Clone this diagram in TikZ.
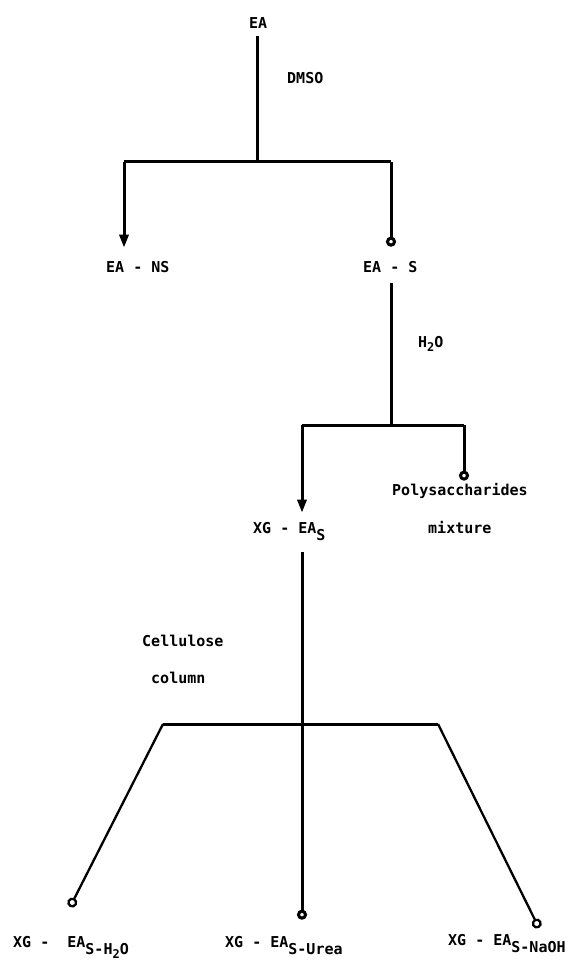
\documentclass[tikz,border=0pt]{standalone}
\usepackage{fontspec}
\newfontfamily\lbf{DejaVu Sans Mono}
\usetikzlibrary{arrows.meta}
\newcommand\lowr[1]{\raisebox{-7pt}{#1}}
\newcommand\lowtwo{\raisebox{-4pt}{\fontsize{12}{12}\selectfont 2}}
\tikzset{
  lbl/.style={font={\lbf\bfseries\fontsize{15}{18}\selectfont}, inner sep=0pt, anchor=base west},
  ln/.style={line width=3pt},
  thin ln/.style={line width=2.3pt},
  arr/.style={ln, -{Triangle[length=13pt,width=9pt]}},
  circ/.style={-{Circle[open,length=10pt,width=10pt]}},
}
\begin{document}
\begin{tikzpicture}[x=1pt,y=-1pt]
\useasboundingbox (0,0) rectangle (571,960);
% labels
\node[lbl] (ea)   at (249,29)  {EA};
\node[lbl] (dmso) at (287,84)  {DMSO};
\node[lbl] (ns)   at (106,272) {EA - NS};
\node[lbl] (s)    at (363,272) {EA - S};
\node[lbl] (h2o)  at (418,347) {H\lowtwo O};
\node[lbl] (poly) at (392,495) {Polysaccharides};
\node[lbl] (mix)  at (428,533) {mixture};
\node[lbl] (xgs)  at (253,533) {XG - EA\lowr{S}};
\node[lbl] (cell) at (142,646) {Cellulose};
\node[lbl] (col)  at (151,683) {column};
\node[lbl] (b1)   at (13,947)  {XG -\ \ EA\lowr{S-H\lowtwo O}};
\node[lbl] (b2)   at (225,947) {XG - EA\lowr{S-Urea}};
\node[lbl] (b3)   at (448,945) {XG - EA\lowr{S-NaOH}};
% junctions
\coordinate (j1)  at (257,162);
\coordinate (j1l) at (124,162);
\coordinate (j1r) at (391,162);
\coordinate (j2)  at (391,425);
\coordinate (j2l) at (302,425);
\coordinate (j2r) at (464,425);
\coordinate (j3)  at (302,724);
\coordinate (j3l) at (163,724);
\coordinate (j3r) at (438,724);
\coordinate (e1)  at (70,907);
\coordinate (e3)  at (539,928);
% first split
\draw[ln, shorten <=7pt] (ea.south -| j1) -- (j1);
\draw[ln] (j1l) -- (j1r);
\draw[arr, shorten >=13pt] (j1l) -- (ns.north -| j1l);
\draw[ln, circ, shorten >=14pt] (j1r) -- (s.north -| j1r);
% second split
\draw[ln, shorten <=11pt] (s.south -| j2) -- (j2);
\draw[ln] (j2l) -- (j2r);
\draw[arr, shorten >=9pt] (j2l) -- (xgs.north -| j2l);
\draw[ln, circ, shorten >=2pt] (j2r) -- (poly.north -| j2r);
% column
\draw[ln, circ, shorten <=12pt, shorten >=16pt] (xgs.south -| j3) -- (b2.north -| j3);
\draw[ln] (j3l) -- (j3r);
\draw[thin ln, circ] (j3l) -- (e1);
\draw[thin ln, circ] (j3r) -- (e3);
\end{tikzpicture}
\end{document}
